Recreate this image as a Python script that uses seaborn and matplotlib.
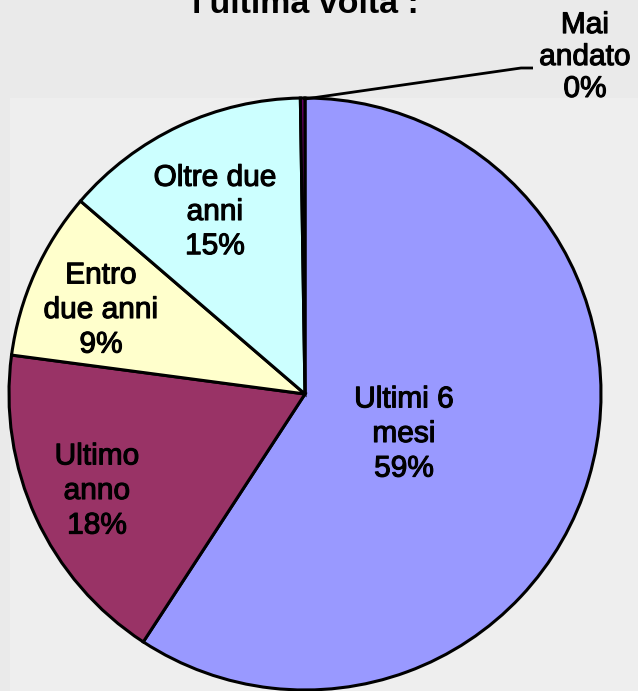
import matplotlib
matplotlib.use("Agg")
import matplotlib.pyplot as plt
import matplotlib.patheffects as pe
import seaborn as sns

sns.set_style("white")
plt.rcParams['font.family'] = ['Liberation Sans', 'DejaVu Sans']

categories = ["Ultimi 6\nmesi", "Ultimo\nanno", "Entro\ndue anni", "Oltre due\nanni", "Mai\nandato"]
values = [59.2, 17.9, 9.2, 13.45, 0.25]
pct_labels = ["59%", "18%", "9%", "15%", "0%"]
colors = ["#9999FF", "#993366", "#FFFFCC", "#CCFFFF", "#660066"]
title = "l'ultima volta :"

W, H = 638, 691
fig = plt.figure(figsize=(W / 100, H / 100), dpi=100)
fig.patch.set_facecolor("#EAEAEA")
ax = fig.add_axes([0, 0, 1, 1])
ax.set_facecolor("#EAEAEA")

def Y(y):
    return H - y

# lighter plot area
ax.add_patch(plt.Rectangle((10, 0), W - 10, Y(98), facecolor="#EEEEEE", edgecolor="none", zorder=0))

ax.pie(values, colors=colors, startangle=90, counterclock=False,
       center=(305, Y(394)), radius=296, frame=True,
       wedgeprops=dict(edgecolor="black", linewidth=2.2))
ax.set_xlim(0, W)
ax.set_ylim(0, H)
ax.set_aspect("equal")
ax.axis("off")

label_pos = [(404, 434), (97, 491), (101, 310), (215, 212), (585, 57)]
label_ls = [1.3, 1.3, 1.3, 1.28, 1.18]
fs = 21.5
stroke = [pe.withStroke(linewidth=0.8, foreground="black")]
for (x, y), cat, p, ls in zip(label_pos, categories, pct_labels, label_ls):
    ax.text(x, Y(y), cat + "\n" + p, ha="center", va="center", fontsize=fs,
            linespacing=ls, color="black", zorder=5, path_effects=stroke)

# leader line for the tiny slice
ax.plot([305, 521, 533], [Y(99), Y(68), Y(68)], color="black", lw=2, zorder=4,
        solid_capstyle="butt")

ax.text(305, Y(12.5), title, ha="center", va="baseline", fontsize=24.5,
        fontweight="bold", color="black")

fig.savefig("out.png", dpi=100, facecolor=fig.get_facecolor())
